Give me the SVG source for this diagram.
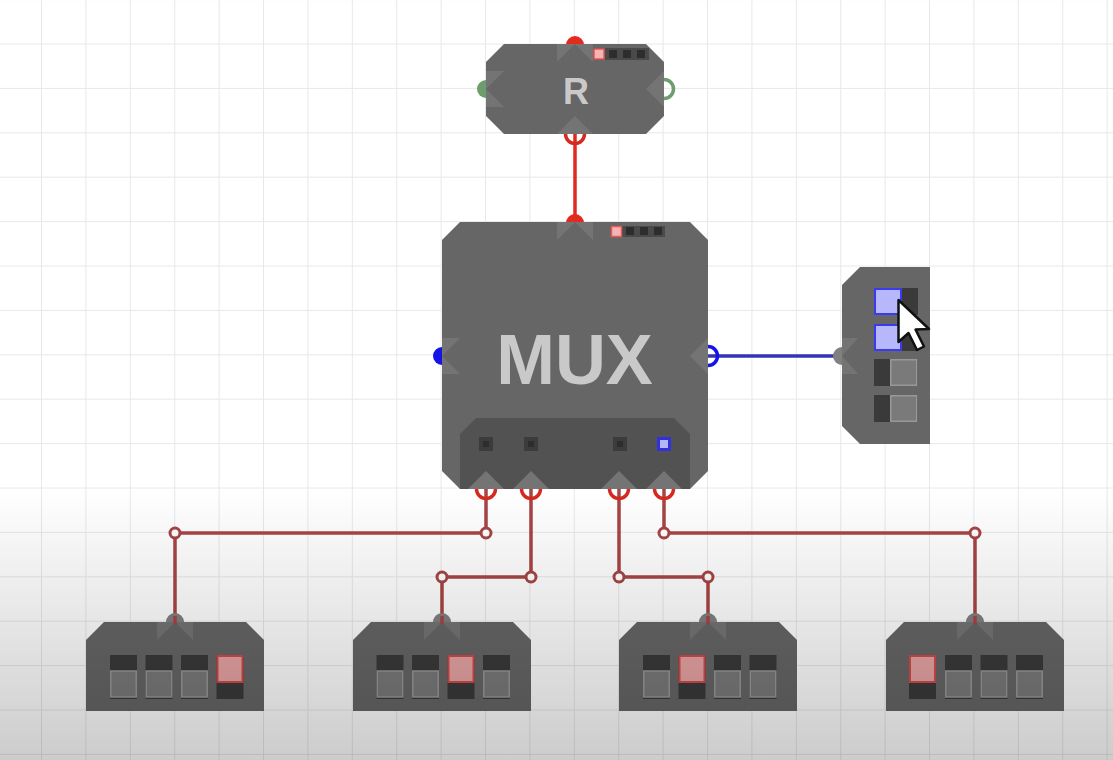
<svg xmlns="http://www.w3.org/2000/svg" width="1113" height="760" viewBox="0 0 1113 760">
<style>
.body{fill:#666}
.port{fill:#747474}
.panel{fill:#525252}
.wire{fill:none;stroke:#a84444;stroke-width:3.5}
.ring{fill:none;stroke:#d42a20;stroke-width:3.5}
.junc{fill:#fff;stroke:#a84444;stroke-width:3}
.gd{fill:#808080}
.lab{font-family:"Liberation Sans",Arial,sans-serif;font-weight:700;fill:#c9c9c9;text-anchor:middle}
.sbg{fill:#3a3a3a}
.soff{fill:#7a7a7a;stroke:#989898;stroke-width:1.5}
.son{fill:#e8a4a4;stroke:#d24a4a;stroke-width:2}
.sblue{fill:#b7b7fb;stroke:#3a3af0;stroke-width:2}
.led{fill:#3c3c3c}
.ledc{fill:#2d2d2d}
</style>
<defs>
<pattern id="grid" width="44.4" height="44.4" patternUnits="userSpaceOnUse" x="-2.4" y="0.1">
<path d="M44.4 0V44.4M0 44.4H44.4" fill="none" stroke="#e8e8e8" stroke-width="2"/>
</pattern>
<linearGradient id="fade" x1="0" y1="0" x2="0" y2="1">
<stop offset="0" stop-color="#000" stop-opacity="0"/>
<stop offset="1" stop-color="#000" stop-opacity="0.2"/>
</linearGradient>
<g id="sw-off"><rect class="sbg" x="0" y="0" width="27" height="44"/><rect class="soff" x="0.75" y="16" width="25.5" height="26"/></g>
<g id="sw-on"><rect class="sbg" x="0" y="0" width="27" height="44"/><rect class="son" x="1" y="1" width="25" height="26"/></g>
<g id="sw-blue"><rect class="sbg" x="0" y="0" width="44" height="27"/><rect class="sblue" x="1" y="1" width="26" height="25"/></g>
<g id="sw-left"><rect class="sbg" x="0" y="0" width="44" height="27"/><rect class="soff" x="16.75" y="0.75" width="26" height="25.5"/></g>
</defs>
<rect width="1113" height="760" fill="#fff"/>
<rect width="1113" height="760" fill="url(#grid)"/>

<g id="connectors">
<path d="M575 134V222" fill="none" stroke="#e02a20" stroke-width="3.5"/>
<path d="M708 356H844" fill="none" stroke="#3535b4" stroke-width="3.5"/>
<path class="wire" d="M486 489V533H175V626"/>
<path class="wire" d="M531 489V577H442V626"/>
<path class="wire" d="M619 489V577H708V626"/>
<path class="wire" d="M664 489V533H975V626"/>
<circle class="junc" cx="486" cy="533" r="5"/>
<circle class="junc" cx="175" cy="533" r="5"/>
<circle class="junc" cx="531" cy="577" r="5"/>
<circle class="junc" cx="442" cy="577" r="5"/>
<circle class="junc" cx="619" cy="577" r="5"/>
<circle class="junc" cx="708" cy="577" r="5"/>
<circle class="junc" cx="664" cy="533" r="5"/>
<circle class="junc" cx="975" cy="533" r="5"/>
</g>

<g id="node-r">
<circle cx="575" cy="45" r="9" fill="#e32a1f"/>
<circle cx="486" cy="89" r="9" fill="#6f9c6d"/>
<circle cx="664" cy="89" r="9.5" fill="none" stroke="#6f9c6d" stroke-width="3.5"/>
<circle class="ring" cx="575" cy="134" r="9.5"/>
<polygon class="body" points="504,44 646,44 664,62 664,116 646,134 504,134 486,116 486,62"/>
<polygon class="port" points="557,44 593,44 593,62 575,44 557,62"/>
<polygon class="port" points="486,71 504,71 486,89 504,107 486,107"/>
<polygon class="port" points="664,71 646,89 664,107"/>
<polygon class="port" points="575,116 593,134 557,134"/>
<rect x="593" y="48" width="56" height="12" fill="#4a4a4a"/>
<rect x="594" y="49" width="10" height="10" fill="#f6b3b3" stroke="#e25a5a" stroke-width="1.5"/>
<rect class="ledc" x="609" y="50" width="8" height="8"/>
<rect class="ledc" x="623" y="50" width="8" height="8"/>
<rect class="ledc" x="637" y="50" width="8" height="8"/>
<text class="lab" x="576" y="104" font-size="36">R</text>
</g>

<g id="node-mux">
<circle cx="575" cy="223" r="9" fill="#e32a1f"/>
<circle cx="442" cy="356" r="9" fill="#1414e6"/>
<circle cx="708" cy="356" r="9.5" fill="none" stroke="#1414e6" stroke-width="3.5"/>
<circle class="ring" cx="486" cy="489" r="9.5"/>
<circle class="ring" cx="531" cy="489" r="9.5"/>
<circle class="ring" cx="619" cy="489" r="9.5"/>
<circle class="ring" cx="664" cy="489" r="9.5"/>
<polygon class="body" points="460,222 690,222 708,240 708,471 690,489 460,489 442,471 442,240"/>
<polygon class="panel" points="476,418 674,418 690,434 690,489 460,489 460,434"/>
<polygon class="port" points="557,222 593,222 593,240 575,222 557,240"/>
<polygon class="port" points="442,338 460,338 442,356 460,374 442,374"/>
<polygon class="port" points="708,338 690,356 708,374"/>
<polygon class="port" points="486,471 504,489 468,489"/>
<polygon class="port" points="531,471 549,489 513,489"/>
<polygon class="port" points="619,471 637,489 601,489"/>
<polygon class="port" points="664,471 682,489 646,489"/>
<rect x="611" y="226" width="54" height="11" fill="#4a4a4a"/>
<rect x="611.5" y="226.500" width="10" height="10" fill="#f6b3b3" stroke="#e25a5a" stroke-width="1.5"/>
<rect class="ledc" x="626" y="227" width="8" height="8"/>
<rect class="ledc" x="640" y="227" width="8" height="8"/>
<rect class="ledc" x="654" y="227" width="8" height="8"/>
<rect class="led" x="479" y="437" width="14" height="14"/><rect class="ledc" x="483" y="441" width="6" height="6"/>
<rect class="led" x="524" y="437" width="14" height="14"/><rect class="ledc" x="528" y="441" width="6" height="6"/>
<rect class="led" x="613" y="437" width="14" height="14"/><rect class="ledc" x="617" y="441" width="6" height="6"/>
<rect x="657" y="437" width="14" height="14" fill="#3030dc"/><rect x="660" y="440" width="8" height="8" fill="#b5b5f5"/>
<text class="lab" x="574.500" y="384" font-size="70.500">MUX</text>
</g>

<g id="node-switches">
<circle cx="842" cy="356" r="9" fill="#808080"/>
<polygon class="body" points="860,267 930,267 930,444 860,444 842,426 842,285"/>
<polygon class="port" points="842,338 858,338 842,356 858,374 842,374"/>
<use href="#sw-blue" x="874" y="288"/>
<use href="#sw-blue" x="874" y="324"/>
<use href="#sw-left" x="874" y="359"/>
<use href="#sw-left" x="874" y="395"/>
</g>

<g id="node-out1">
<circle class="gd" cx="175" cy="622" r="9"/>
<polygon class="body" points="104,622 246,622 264,640 264,711 86,711 86,640"/>
<polygon class="port" points="157,622 193,622 193,640 175,622 157,640"/>
<path class="wire" d="M175 616V624"/>
<use href="#sw-off" x="110" y="655"/><use href="#sw-off" x="145.500" y="655"/><use href="#sw-off" x="181" y="655"/><use href="#sw-on" x="216.500" y="655"/>
</g>
<g id="node-out2">
<circle class="gd" cx="442" cy="622" r="9"/>
<polygon class="body" points="371,622 513,622 531,640 531,711 353,711 353,640"/>
<polygon class="port" points="424,622 460,622 460,640 442,622 424,640"/>
<path class="wire" d="M442 616V624"/>
<use href="#sw-off" x="376.500" y="655"/><use href="#sw-off" x="412" y="655"/><use href="#sw-on" x="447.500" y="655"/><use href="#sw-off" x="483" y="655"/>
</g>
<g id="node-out3">
<circle class="gd" cx="708" cy="622" r="9"/>
<polygon class="body" points="637,622 779,622 797,640 797,711 619,711 619,640"/>
<polygon class="port" points="690,622 726,622 726,640 708,622 690,640"/>
<path class="wire" d="M708 616V624"/>
<use href="#sw-off" x="643" y="655"/><use href="#sw-on" x="678.500" y="655"/><use href="#sw-off" x="714" y="655"/><use href="#sw-off" x="749.500" y="655"/>
</g>
<g id="node-out4">
<circle class="gd" cx="975" cy="622" r="9"/>
<polygon class="body" points="904,622 1046,622 1064,640 1064,711 886,711 886,640"/>
<polygon class="port" points="957,622 993,622 993,640 975,622 957,640"/>
<path class="wire" d="M975 616V624"/>
<use href="#sw-on" x="909" y="655"/><use href="#sw-off" x="945" y="655"/><use href="#sw-off" x="980.500" y="655"/><use href="#sw-off" x="1016" y="655"/>
</g>

<rect x="0" y="488" width="1113" height="272" fill="url(#fade)"/>
<path d="M898.500 300V342L908.500 333L917 350L924 346.500L915.500 329.500L929 329Z" fill="#fff" stroke="#111" stroke-width="2.500" stroke-linejoin="round"/>
</svg>
